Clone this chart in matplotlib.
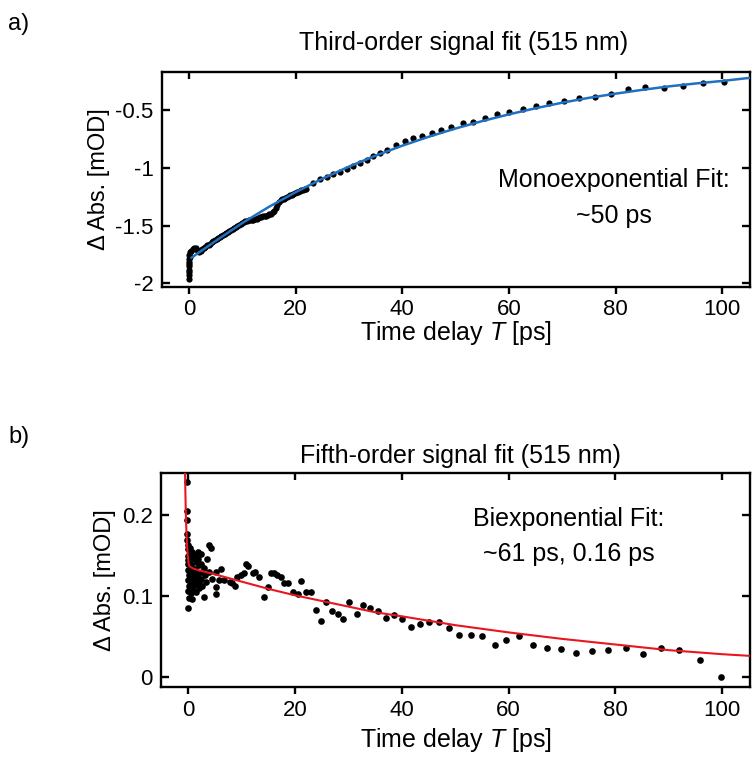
import matplotlib
matplotlib.use("Agg")
import matplotlib.pyplot as plt
from matplotlib.ticker import FormatStrFormatter

plt.rcParams['font.family'] = ['Liberation Sans', 'DejaVu Sans']
plt.rcParams['axes.unicode_minus'] = False
plt.rcParams['mathtext.fontset'] = 'custom'
plt.rcParams['mathtext.rm'] = 'Liberation Sans'
plt.rcParams['mathtext.it'] = 'Liberation Sans:italic'

# --- panel a: third-order signal (515 nm) ---
t3 = [0.0, 0.05, 0.0, 0.1, 0.0, 0.05, 0.1, 0.0, 0.15, 0.1, 0.2,
      0.4, 0.7, 1.0, 1.3, 1.6, 1.9, 2.2, 2.5, 2.8, 3.1, 3.4, 3.7, 4.0, 4.3,
      4.6, 4.9, 5.2, 5.5, 5.8, 6.1, 6.4, 6.7, 7.0, 7.3, 7.6, 7.9, 8.2, 8.5,
      8.8, 9.1, 9.4, 9.7, 10.0, 10.3, 10.6, 10.9, 11.2, 11.5, 11.8, 12.1,
      12.4, 12.7, 13.0, 13.3, 13.6, 13.9, 14.2, 14.5, 14.8, 15.1, 15.4, 15.7,
      16.0, 16.3, 16.6, 16.9, 17.2, 17.5, 17.8, 18.1, 18.4, 18.7, 19.0, 19.3,
      19.6, 19.9, 20.2, 20.5, 20.8, 21.1, 21.4, 21.7, 22.0,
      23.3, 24.5, 25.8, 27.0, 28.3, 29.6, 30.8, 32.1, 33.3, 34.5, 35.8, 37.2,
      38.8, 40.5, 42.0, 43.7, 45.5, 47.3, 49.2, 51.3, 53.3, 55.5, 57.7, 60.0,
      62.6, 65.0, 67.6, 70.4, 73.2, 76.1, 79.1, 82.3, 85.6, 89.1, 92.6, 96.4,
      100.3]
a3 = [-1.96, -1.93, -1.90, -1.88, -1.85, -1.83, -1.81, -1.79, -1.77, -1.75, -1.73,
      -1.72, -1.70, -1.69, -1.69, -1.71, -1.73, -1.72, -1.70, -1.69, -1.68, -1.67,
      -1.665, -1.655, -1.645, -1.63, -1.625, -1.615, -1.605, -1.60, -1.59, -1.58,
      -1.57, -1.56, -1.555, -1.545, -1.535, -1.53, -1.52, -1.51, -1.50, -1.49,
      -1.485, -1.475, -1.47, -1.46, -1.457, -1.455, -1.452, -1.45, -1.45, -1.445,
      -1.44, -1.435, -1.428, -1.425, -1.42, -1.418, -1.413, -1.41, -1.40, -1.395,
      -1.385, -1.37, -1.345, -1.32, -1.295, -1.28, -1.272, -1.265, -1.258, -1.252,
      -1.245, -1.238, -1.232, -1.225, -1.218, -1.21, -1.205, -1.20, -1.195, -1.19,
      -1.185, -1.18,
      -1.13, -1.10, -1.08, -1.057, -1.036, -1.007, -0.987, -0.955, -0.929, -0.90,
      -0.871, -0.842, -0.804, -0.767, -0.741, -0.723, -0.697, -0.674, -0.645,
      -0.616, -0.601, -0.572, -0.537, -0.514, -0.494, -0.463, -0.437, -0.419,
      -0.398, -0.390, -0.363, -0.320, -0.297, -0.306, -0.291, -0.263, -0.254]

fit3_t = [0.5, 5, 10, 15, 20, 25, 30, 35, 40, 45, 50, 55, 60, 65, 70, 75, 80,
          85, 90, 95, 100, 105]
fit3_a = [-1.776, -1.632, -1.477, -1.337, -1.21, -1.094, -0.989, -0.894, -0.808,
          -0.730, -0.659, -0.595, -0.537, -0.484, -0.436, -0.394, -0.358, -0.325,
          -0.295, -0.27, -0.248, -0.222]

# --- panel b: fifth-order signal (515 nm) ---
t5 = [-0.2, -0.2, -0.15, -0.1, -0.1, -0.05, 0.0, 0.0, 0.05, 0.0, 0.05, 0.1, 0.0,
      0.1, 0.05, 0.1, 0.0,
      0.3, 0.4, 0.3, 0.5, 0.4, 0.5, 0.4, 0.6, 0.5,
      0.8, 0.9, 0.8, 1.0, 0.9, 1.0, 0.8, 1.1,
      1.3, 1.4, 1.3, 1.5, 1.4, 1.5,
      1.8, 1.9, 2.0, 1.8, 2.0, 2.1,
      2.4, 2.5, 2.6, 2.4, 2.7,
      3.0, 3.0, 3.2, 3.4, 3.6, 3.9, 4.3, 4.0, 4.4,
      5.2, 5.2, 5.3, 6.1, 5.8,
      6.7, 7.9, 8.3, 8.8, 9.2, 9.9, 10.5, 10.8, 11.3, 12.1, 12.6, 13.3, 14.2,
      14.9, 15.5, 16.1, 16.7, 17.4, 18.0, 18.8, 19.6, 20.5, 21.1, 22.1, 23.0,
      23.9, 24.9, 25.8, 26.9, 28.0, 29.1, 30.2, 31.6, 32.8, 34.1, 35.6, 37.1,
      38.5, 40.0, 41.7, 43.4, 45.2, 46.9, 48.8, 50.8, 53.0, 55.0, 57.4, 59.5,
      62.0, 64.5, 67.2, 69.9, 72.7, 75.6, 78.6, 81.9, 85.2, 88.6, 92.0, 95.8,
      99.7]
a5 = [0.241, 0.206, 0.194, 0.177, 0.170, 0.163, 0.158, 0.150, 0.145, 0.140,
      0.132, 0.126, 0.120, 0.113, 0.106, 0.098, 0.085,
      0.160, 0.152, 0.145, 0.138, 0.128, 0.118, 0.110, 0.104, 0.125,
      0.155, 0.147, 0.135, 0.128, 0.120, 0.112, 0.097, 0.106,
      0.150, 0.142, 0.133, 0.124, 0.115, 0.105,
      0.155, 0.146, 0.138, 0.127, 0.118, 0.110,
      0.152, 0.140, 0.130, 0.121, 0.113,
      0.099, 0.135, 0.126, 0.118, 0.146, 0.163, 0.159, 0.130, 0.121,
      0.130, 0.111, 0.103, 0.134, 0.120,
      0.120, 0.118, 0.116, 0.113, 0.124, 0.126, 0.128, 0.140, 0.137, 0.129,
      0.130, 0.124, 0.099, 0.111, 0.129, 0.128, 0.126, 0.124, 0.116, 0.116,
      0.105, 0.102, 0.119, 0.105, 0.105, 0.083, 0.069, 0.093, 0.082, 0.078,
      0.072, 0.093, 0.078, 0.089, 0.085, 0.081, 0.073, 0.076, 0.072, 0.062,
      0.066, 0.068, 0.068, 0.060, 0.052, 0.052, 0.050, 0.040, 0.045, 0.050,
      0.040, 0.036, 0.035, 0.030, 0.032, 0.033, 0.036, 0.028, 0.036, 0.033,
      0.021, 0.0]

fit5_t = [-0.58, -0.5, -0.42, -0.3, -0.2, -0.05, 0.1, 0.25, 1.0, 2.0, 5, 10, 15,
          20, 25, 30, 35, 40, 50, 60, 70, 80, 90, 100, 105]
fit5_a = [0.26, 0.23, 0.205, 0.18, 0.165, 0.15, 0.141, 0.137, 0.134, 0.132,
          0.127, 0.118, 0.109, 0.101, 0.094, 0.087, 0.080, 0.075, 0.064, 0.055,
          0.047, 0.040, 0.033, 0.028, 0.026]

fig = plt.figure(figsize=(7.52, 7.71), dpi=100)
ax1 = fig.add_axes([0.2154, 0.6278, 0.7819, 0.2789])
ax2 = fig.add_axes([0.2141, 0.1089, 0.7832, 0.2776])

ax1.plot(t3, a3, 'o', color='black', ms=4.5, mec='none', zorder=2)
ax1.plot(fit3_t, fit3_a, color='#1f70c1', lw=1.8, zorder=3)
ax2.plot(t5, a5, 'o', color='black', ms=4.8, mec='none', zorder=2)
ax2.plot(fit5_t, fit5_a, color='#e8161e', lw=1.5, zorder=3)

ax1.set_xlim(-5.06, 105.2)
ax1.set_ylim(-2.03, -0.17)
ax1.set_yticks([-2, -1.5, -1, -0.5])
ax2.set_xlim(-5.06, 105.2)
ax2.set_ylim(-0.0127, 0.2525)
ax2.set_yticks([0, 0.1, 0.2])

for ax in (ax1, ax2):
    ax.set_xticks([0, 20, 40, 60, 80, 100])
    ax.yaxis.set_major_formatter(FormatStrFormatter('%g'))
    for s in ax.spines.values():
        s.set_linewidth(1.7)
    ax.tick_params(axis='x', which='both', direction='out', top=False,
                   length=5, width=1.7, labelsize=16, pad=4)
    ax.tick_params(axis='y', which='both', direction='in', right=True,
                   length=6, width=1.7, labelsize=16, pad=6)
    sec = ax.secondary_xaxis('top')
    sec.set_xticks([0, 20, 40, 60, 80, 100])
    sec.tick_params(direction='in', length=5, width=1.7, labeltop=False)
    sec.spines['top'].set_visible(False)
    ax.set_ylabel('\u0394 Abs. [mOD]', fontsize=17, labelpad=4)

ax1.set_xlabel('Time delay $\\mathit{T}$ [ps]', fontsize=18, labelpad=-1)
ax2.set_xlabel('Time delay $\\mathit{T}$ [ps]', fontsize=18, labelpad=4)

ax1.text(0.769, 0.414, 'Monoexponential Fit:\n~50 ps', transform=ax1.transAxes,
         ha='center', va='center', fontsize=18, linespacing=1.6)
ax2.text(0.693, 0.703, 'Biexponential Fit:\n~61 ps, 0.16 ps', transform=ax2.transAxes,
         ha='center', va='center', fontsize=18, linespacing=1.6)

fig.text(464 / 752, 1 - 43 / 771, 'Third-order signal fit (515 nm)', ha='center',
         va='center', fontsize=18)
fig.text(460 / 752, 1 - 456 / 771, 'Fifth-order signal fit (515 nm)', ha='center',
         va='center', fontsize=18)
fig.text(8 / 752, 1 - 24 / 771, 'a)', ha='left', va='center', fontsize=17)
fig.text(8 / 752, 1 - 437 / 771, 'b)', ha='left', va='center', fontsize=17)

fig.savefig('out.png', dpi=100)
